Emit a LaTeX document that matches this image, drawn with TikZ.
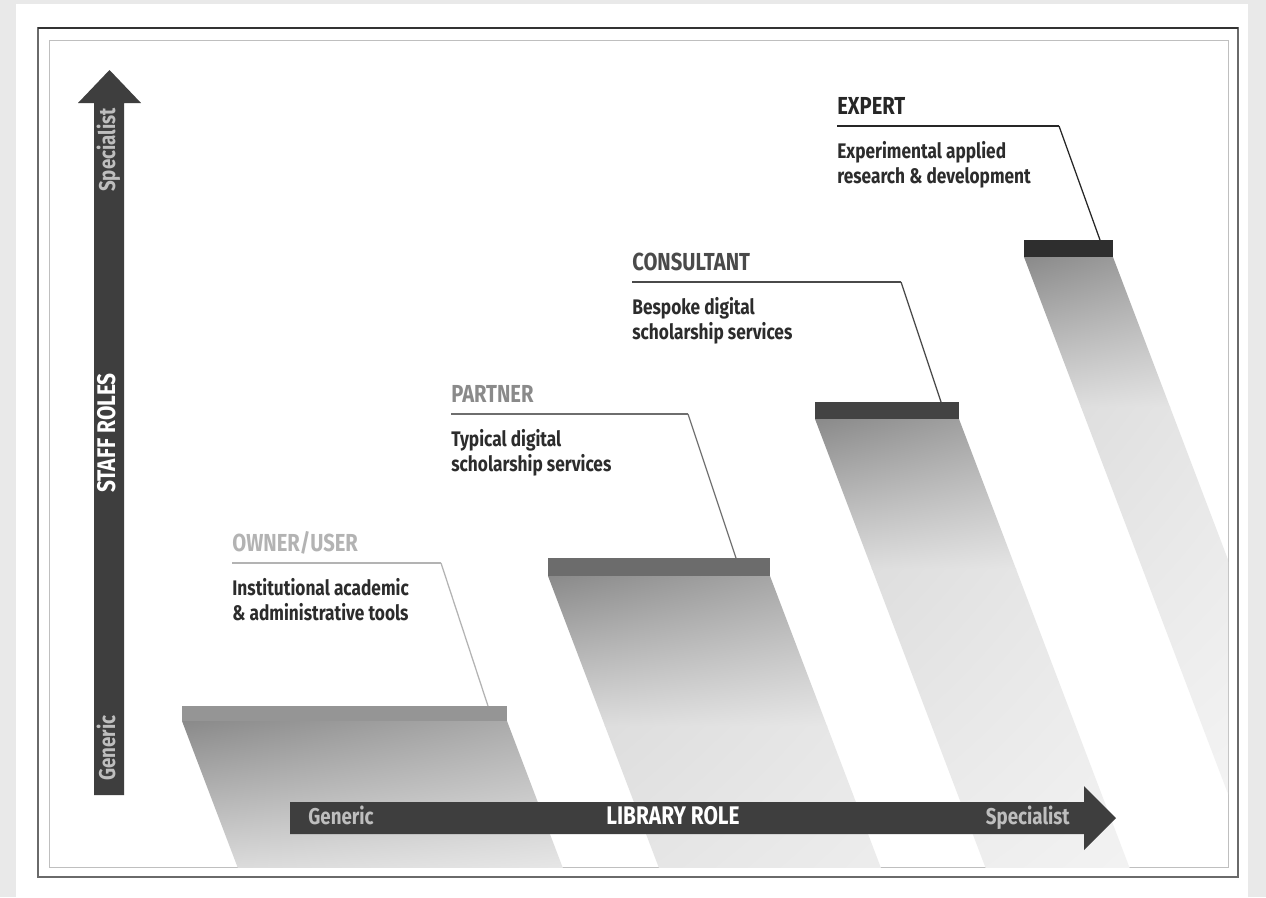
\documentclass[tikz,border=0pt]{standalone}
\usepackage{fontspec}
\setmainfont{Fira Sans}[FakeStretch=0.82]
\usetikzlibrary{positioning,shadings}

\definecolor{pagegray}{HTML}{E9E9E9}
\definecolor{framegray}{HTML}{6A6A6A}
\definecolor{axisgray}{HTML}{3E3E3E}
\definecolor{axistext}{HTML}{BEBEBE}
\definecolor{bodytext}{HTML}{2C2C2C}
% bars
\definecolor{ownerbar}{HTML}{959595}
\definecolor{partnerbar}{HTML}{6C6C6C}
\definecolor{consultbar}{HTML}{434343}
\definecolor{expertbar}{HTML}{2E2E2E}
% titles and rules
\definecolor{ownertitle}{HTML}{B3B3B3}
\definecolor{partnertitle}{HTML}{8A8A8A}
\definecolor{consulttitle}{HTML}{4A4A4A}
\definecolor{experttitle}{HTML}{262626}

\def\slant{0.38}
% shadow under a step: left x, top y, bar width
\newcommand{\stepshadow}[3]{%
    \begin{scope}
        \clip (#1,#2) -- ++(#3,0) -- ++({\slant*610},610) -- ++(-#3,0) -- cycle;
        \shade[upper left=black!14, upper right=black!7, lower left=black!5, lower right=black!3] (#1,{#2+149}) rectangle ++({#3+\slant*610},461);
        \shade[upper left=black!46, upper right=black!24, lower left=black!14, lower right=black!7] (#1,#2) rectangle ++({#3+\slant*610},150);
    \end{scope}}

\begin{document}
\begin{tikzpicture}[x=0.2mm, y=-0.2mm,
    role title/.style={anchor=base west, inner sep=0pt, font=\bfseries\fontsize{14}{16}\selectfont},
    role text/.style={inner sep=0pt, align=left, text=bodytext, font=\bfseries\fontsize{12}{14.2}\selectfont},
    axis label/.style={inner sep=0pt, text height=0.7em, text depth=0pt, font=\bfseries\fontsize{13}{15}\selectfont, text=axistext},
    axis title/.style={inner sep=0pt, text height=0.7em, text depth=0pt, font=\bfseries\fontsize{14.5}{16}\selectfont, text=white},
    rule/.style={line width=0.4mm},
    leader/.style={line width=0.25mm}]

    % Page and frame
    \fill[pagegray] (0,0) rectangle (1266,897);
    \fill[white] (16,4) rectangle (1248,897);
    \draw[framegray, line width=0.45mm] (38,28) rectangle (1238,877);
    \draw[black!80, line width=0.5mm] (38,28) -- (1238,28);
    \draw[black!25, line width=0.2mm] (49,40) rectangle (1228,867);

    % Shadows under the steps
    \begin{scope}
        \clip (49,40) rectangle (1228,867);
        \stepshadow{182}{721}{325}
        \stepshadow{548}{576}{222}
        \stepshadow{815}{419}{144}
        \stepshadow{1024}{257}{89}
    \end{scope}

    % Axes
    \fill[axisgray] (94,795) -- (94,103) -- (78,103) -- (109.5,70) -- (141,103) -- (124,103) -- (124,795) -- cycle;
    \fill[axisgray] (290,802) -- (1084,802) -- (1084,786) -- (1116,818) -- (1084,850) -- (1084,834) -- (290,834) -- cycle;

    \node[axis label, rotate=90] (staff specialist) at (109,150) {Specialist};
    \node[axis title, rotate=90] (staff title) at (109,433) {STAFF ROLES};
    \node[axis label, rotate=90] (staff generic) at (109,748) {Generic};

    \node[axis label, anchor=west] (library generic) at (308,818) {Generic};
    \node[axis title] (library title) at (673,818) {LIBRARY ROLE};
    \node[axis label, anchor=east] (library specialist) at (1070,818) {Specialist};

    % Steps
    \fill[ownerbar] (182,706) rectangle (507,721);
    \fill[partnerbar] (548,558) rectangle (770,576);
    \fill[consultbar] (815,402) rectangle (959,419);
    \fill[expertbar] (1024,240) rectangle (1113,257);

    \coordinate (owner knee) at (441,563);
    \coordinate (owner foot) at (488,706);
    \coordinate (partner knee) at (688,414);
    \coordinate (partner foot) at (736,558);
    \coordinate (consult knee) at (901,282);
    \coordinate (consult foot) at (941,402);
    \coordinate (expert knee) at (1059,126);
    \coordinate (expert foot) at (1100,240);

    % Labels
    \node[role title, text=ownertitle] (owner title) at (232,551) {OWNER/USER};
    \node[role text, below right=5.4mm and 0mm of owner title.base west] (owner text) {Institutional academic\\\& administrative tools};

    \node[role title, text=partnertitle] (partner title) at (451,402) {PARTNER};
    \node[role text, below right=5.4mm and 0mm of partner title.base west] (partner text) {Typical digital\\scholarship services};

    \node[role title, text=consulttitle] (consult title) at (632,270) {CONSULTANT};
    \node[role text, below right=5.4mm and 0mm of consult title.base west] (consult text) {Bespoke digital\\scholarship services};

    \node[role title, text=experttitle] (expert title) at (837,114) {EXPERT};
    \node[role text, below right=5.4mm and 0mm of expert title.base west] (expert text) {Experimental applied\\research \& development};

    % Leaders
    \draw[rule, ownertitle] (owner title.base west |- owner knee) -- (owner knee);
    \draw[leader, ownertitle] (owner knee) -- (owner foot);
    \draw[rule, partnertitle!80!black] (partner title.base west |- partner knee) -- (partner knee);
    \draw[leader, partnertitle!80!black] (partner knee) -- (partner foot);
    \draw[rule, consulttitle] (consult title.base west |- consult knee) -- (consult knee);
    \draw[leader, consulttitle] (consult knee) -- (consult foot);
    \draw[rule, experttitle] (expert title.base west |- expert knee) -- (expert knee);
    \draw[leader, experttitle] (expert knee) -- (expert foot);
\end{tikzpicture}
\end{document}
